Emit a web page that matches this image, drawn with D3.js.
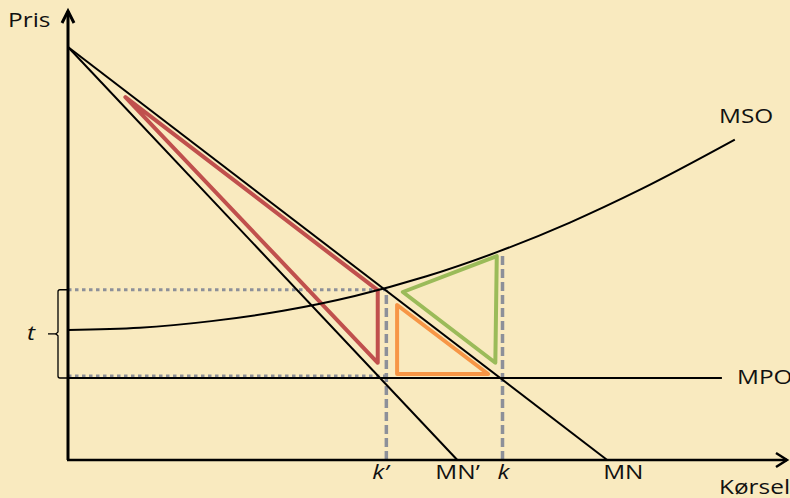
<!DOCTYPE html>
<html lang="no">
<head>
<meta charset="utf-8">
<title>Pris / Kørsel</title>
<script src="https://d3js.org/d3.v7.min.js"></script>
<style>
  body { margin: 0; background: #f9eabf; }
  svg { display: block; }
  text { font-family: "Open Sans", sans-serif; font-size: 20px; fill: #111; }
</style>
</head>
<body>
<svg width="790" height="498"></svg>
<script>
// values in chart units (quantity 0-100, price 0-100)
const priceTop = 92.2;          // where both demand curves start
const mnEnd = 75.2;             // MN hits the axis
const mnPrimeEnd = 54.3;        // MN' hits the axis
const mpoLevel = 18.3, mpoEnd = 91.2;
const kPrime = 44.4, kPrimePrice = 38.0;
const k = 60.6, kTop = 45.8;

const msoX = [0, 10, 20, 30, 40, 50, 60, 70, 80, 93];
const msoY = [29, 29.5, 31, 33.3, 36.6, 41, 46.5, 53, 60.5, 71.5];

const redTri = [[8.0, 81.0], [43.2, 37.9], [43.2, 21.7]];
const orangeTri = [[45.9, 34.6], [45.9, 19.2], [58.6, 19.2]];
const greenTri = [[46.7, 37.5], [59.8, 45.5], [59.6, 21.7]];

const svg = d3.select("svg");
const x = d3.scaleLinear().domain([0, 100]).range([68, 785]);
const y = d3.scaleLinear().domain([0, 100]).range([460, 12]);
const line = d3.line().x(d => x(d[0])).y(d => y(d[1]));
const gray = "#8d9099";

// dotted guides
svg.append("path").attr("d", line([[0, kPrimePrice], [kPrime, kPrimePrice]]))
  .attr("stroke", gray).attr("stroke-width", 3).attr("stroke-dasharray", "3.5,3.5").attr("fill", "none");
svg.append("path").attr("d", line([[0, mpoLevel], [kPrime, mpoLevel]]))
  .attr("transform", "translate(0,-2)")
  .attr("stroke", gray).attr("stroke-width", 3).attr("stroke-dasharray", "3.5,3.5").attr("fill", "none");

// dashed verticals
[[kPrime, kPrimePrice], [k, kTop]].forEach(p => {
  svg.append("path").attr("d", line([[p[0], 0], p]))
    .attr("stroke", gray).attr("stroke-width", 3.5).attr("stroke-dasharray", "9,4").attr("fill", "none");
});

// triangles
[[redTri, "#c0504d"], [orangeTri, "#f79646"], [greenTri, "#9bbb59"]].forEach(t => {
  svg.append("path").attr("d", line(t[0]) + "Z")
    .attr("stroke", t[1]).attr("stroke-width", 4).attr("stroke-linejoin", "round").attr("fill", "none");
});

// curves
svg.append("path").attr("d", line([[0, priceTop], [mnEnd, 0]]))
  .attr("stroke", "#000").attr("stroke-width", 2).attr("fill", "none");
svg.append("path").attr("d", line([[0, priceTop], [mnPrimeEnd, 0]]))
  .attr("stroke", "#000").attr("stroke-width", 2).attr("fill", "none");
svg.append("path").attr("d", line([[0, mpoLevel], [mpoEnd, mpoLevel]]))
  .attr("stroke", "#000").attr("stroke-width", 2).attr("fill", "none");
svg.append("path").attr("d", line.curve(d3.curveMonotoneX)(msoX.map((v, i) => [v, msoY[i]])))
  .attr("stroke", "#000").attr("stroke-width", 2).attr("fill", "none");
line.curve(d3.curveLinear);

// axes with open arrow heads
svg.append("line").attr("x1", x(0)).attr("y1", y(0)).attr("x2", x(0)).attr("y2", y(100) - 1)
  .attr("stroke", "#000").attr("stroke-width", 3);
svg.append("line").attr("x1", x(0) - 1).attr("y1", y(0)).attr("x2", x(100) + 2).attr("y2", y(0))
  .attr("stroke", "#000").attr("stroke-width", 2.5);
svg.append("path")
  .attr("d", `M${x(0) - 6},${y(100) + 11}L${x(0)},${y(100) - 1}L${x(0) + 6},${y(100) + 11}`)
  .attr("stroke", "#000").attr("stroke-width", 3).attr("fill", "none");
svg.append("path")
  .attr("d", `M${x(100) - 9},${y(0) - 7}L${x(100) + 2},${y(0)}L${x(100) - 9},${y(0) + 7}`)
  .attr("stroke", "#000").attr("stroke-width", 2.5).attr("fill", "none");

// brace for t
const bx = x(0) - 10, bTop = y(kPrimePrice), bBot = y(mpoLevel), bMid = (bTop + bBot) / 2;
svg.append("path")
  .attr("d", `M${x(0) - 1},${bTop}H${bx + 2}Q${bx},${bTop} ${bx},${bTop + 2}V${bMid - 2}L${bx - 2},${bMid}L${bx},${bMid + 2}V${bBot - 2}Q${bx},${bBot} ${bx + 2},${bBot}H${x(0) - 1}`)
  .attr("stroke", "#000").attr("stroke-width", 1.3).attr("fill", "none");
svg.append("line").attr("x1", bx - 10).attr("x2", bx - 2).attr("y1", bMid).attr("y2", bMid)
  .attr("stroke", "#000").attr("stroke-width", 1.3);

// labels
function label(txt, px, py, italic) {
  svg.append("text").attr("transform", `translate(${px},${py}) scale(1.22,1)`)
    .style("font-style", italic ? "italic" : "normal").text(txt);
}
label("Pris", 8, 27);
label("MSO", 719, 123);
label("MPO", 737, 384);
label("Kørsel", 719, 494);
label("MN’", x(mnPrimeEnd) - 22, 479);
label("MN", x(mnEnd) - 4, 479);
label("k’", x(kPrime) - 14, 479, true);
label("k", x(k) - 5, 479, true);
label("t", 27, bMid + 6, true);
</script>
</body>
</html>
